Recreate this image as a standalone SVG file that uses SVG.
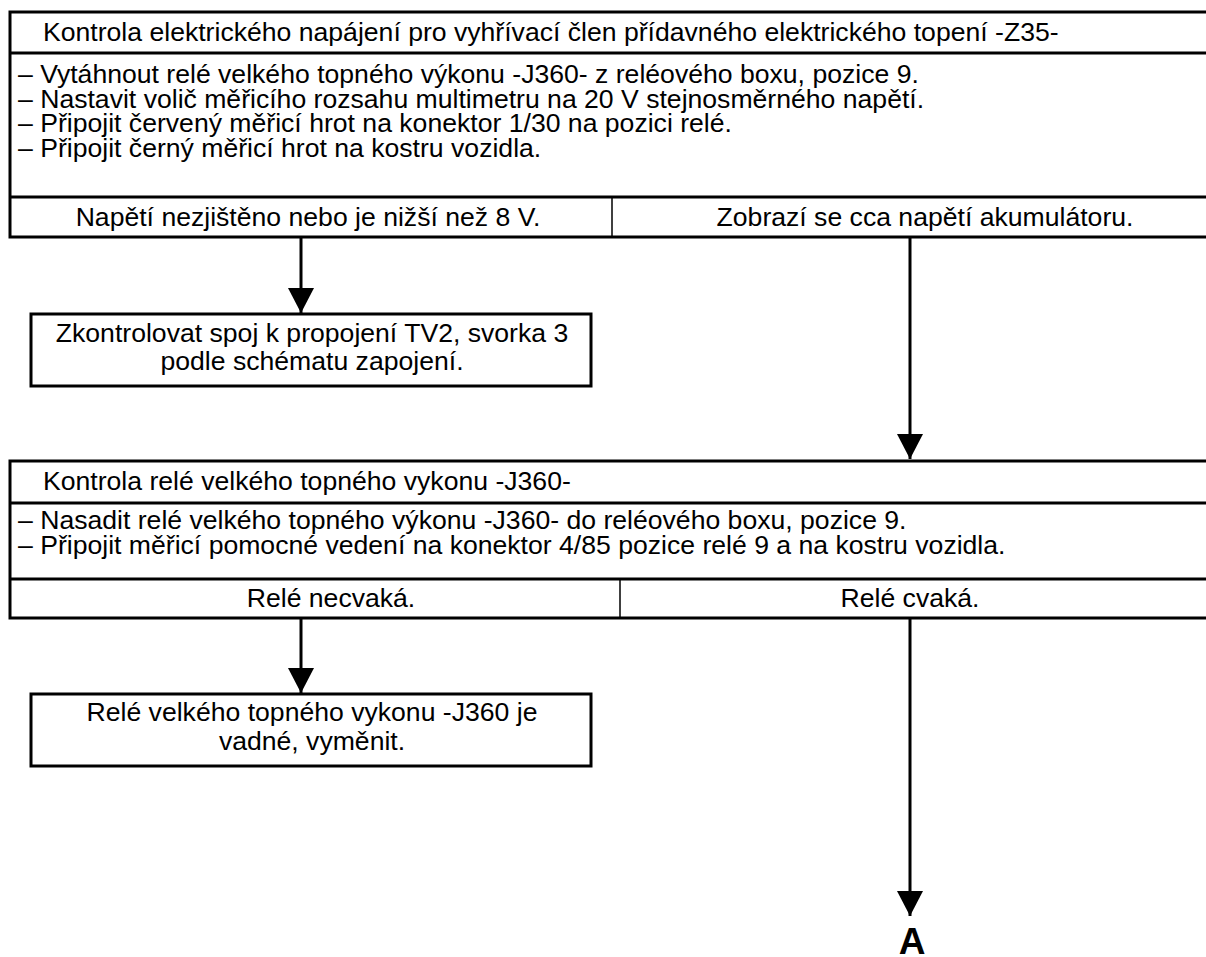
<svg xmlns="http://www.w3.org/2000/svg" width="1206" height="957" viewBox="0 0 1206 957">
  <style>
    text { font-family: "Liberation Sans", Arial, sans-serif; font-size: 26.6px; fill: #000; }
    .mid { text-anchor: middle; }
    .frame { fill: none; stroke: #000; stroke-width: 3; }
    .rule { stroke: #000; stroke-width: 3; }
    .split { stroke: #000; stroke-width: 1.5; }
    .wire { stroke: #000; stroke-width: 3; fill: none; }
    .label { font-weight: bold; font-size: 37px; }
  </style>
  <defs>
    <marker id="head" markerUnits="userSpaceOnUse" markerWidth="28" markerHeight="28" refX="25" refY="13" orient="auto">
      <path d="M0,0 L25,13 L0,26 Z" fill="#000"/>
    </marker>
  </defs>
  <rect width="1206" height="957" fill="#fff"/>

  <!-- Step 1: supply voltage check for heater element -Z35- -->
  <g id="step1">
    <path class="frame" d="M1206,12 H10 V237 H1206"/>
    <line class="rule" x1="10" y1="53" x2="1206" y2="53"/>
    <line class="rule" x1="10" y1="197" x2="1206" y2="197"/>
    <line class="split" x1="612" y1="197" x2="612" y2="237"/>
    <text x="43" y="41">Kontrola elektrického napájení pro vyhřívací člen přídavného elektrického topení -Z35-</text>
    <text x="18" y="83">– Vytáhnout relé velkého topného výkonu -J360- z reléového boxu, pozice 9.</text>
    <text x="18" y="108">– Nastavit volič měřicího rozsahu multimetru na 20 V stejnosměrného napětí.</text>
    <text x="18" y="132">– Připojit červený měřicí hrot na konektor 1/30 na pozici relé.</text>
    <text x="18" y="157">– Připojit černý měřicí hrot na kostru vozidla.</text>
    <text class="mid" x="308" y="226">Napětí nezjištěno nebo je nižší než 8 V.</text>
    <text class="mid" x="925" y="226">Zobrazí se cca napětí akumulátoru.</text>
  </g>

  <!-- Result: wiring check -->
  <g id="check-wiring">
    <rect class="frame" x="31" y="314" width="560" height="72"/>
    <text class="mid" x="312" y="342">Zkontrolovat spoj k propojení TV2, svorka 3</text>
    <text class="mid" x="312" y="370">podle schématu zapojení.</text>
  </g>

  <!-- Step 2: relay -J360- check -->
  <g id="step2">
    <path class="frame" d="M1206,461 H10 V618 H1206"/>
    <line class="rule" x1="10" y1="503" x2="1206" y2="503"/>
    <line class="rule" x1="10" y1="579" x2="1206" y2="579"/>
    <line class="split" x1="620" y1="579" x2="620" y2="618"/>
    <text x="43" y="490">Kontrola relé velkého topného vykonu -J360-</text>
    <text x="18" y="529">– Nasadit relé velkého topného výkonu -J360- do reléového boxu, pozice 9.</text>
    <text x="18" y="554">– Připojit měřicí pomocné vedení na konektor 4/85 pozice relé 9 a na kostru vozidla.</text>
    <text class="mid" x="331" y="607">Relé necvaká.</text>
    <text class="mid" x="910" y="607">Relé cvaká.</text>
  </g>

  <!-- Result: faulty relay -->
  <g id="replace-relay">
    <rect class="frame" x="31" y="694" width="560" height="72"/>
    <text class="mid" x="312" y="721">Relé velkého topného vykonu -J360 je</text>
    <text class="mid" x="312" y="750">vadné, vyměnit.</text>
  </g>

  <!-- Continuation mark -->
  <g id="goto-a">
    <text class="label mid" x="912" y="954">A</text>
  </g>

  <!-- Connectors -->
  <g id="connectors">
    <line class="wire" x1="301" y1="237" x2="301" y2="313" marker-end="url(#head)"/>
    <line class="wire" x1="910" y1="237" x2="910" y2="459" marker-end="url(#head)"/>
    <line class="wire" x1="301" y1="618" x2="301" y2="693" marker-end="url(#head)"/>
    <line class="wire" x1="910" y1="618" x2="910" y2="916" marker-end="url(#head)"/>
  </g>
</svg>
